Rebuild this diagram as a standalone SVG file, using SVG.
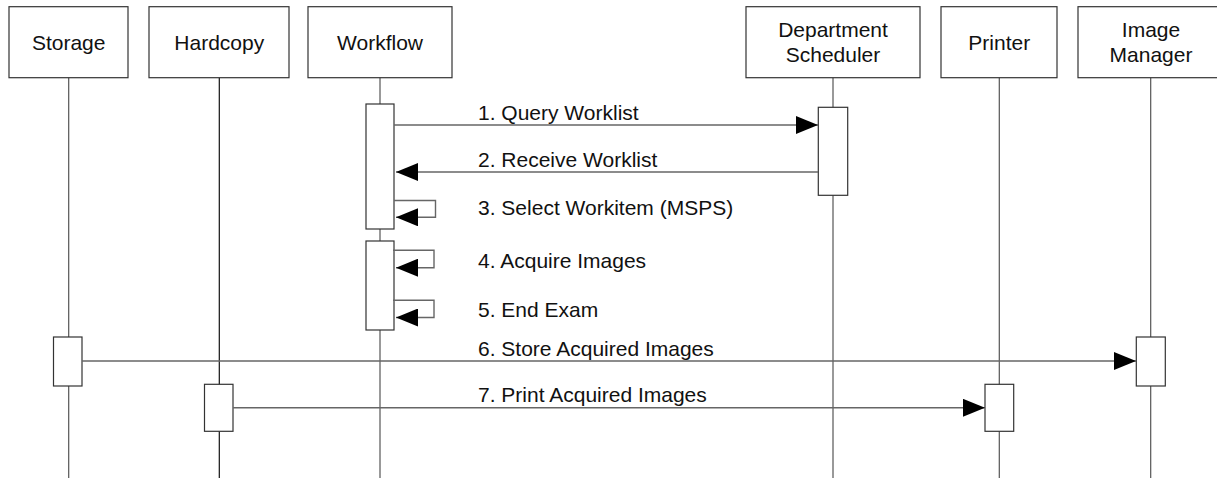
<svg xmlns="http://www.w3.org/2000/svg" width="1217" height="480" viewBox="0 0 1217 480">
<style>
.box{fill:#fff;stroke:#333;stroke-width:1.2}
.life{stroke:#555;stroke-width:1.2;fill:none}
.act{fill:#fff;stroke:#333;stroke-width:1.2}
.msg{stroke:#666;stroke-width:1.4;fill:none}
.t{font-family:"Liberation Sans",Arial,sans-serif;font-size:21px;fill:#111}
.c{text-anchor:middle}
</style>
<defs>
<marker id="ah" markerUnits="userSpaceOnUse" markerWidth="22" markerHeight="18" refX="22" refY="9" orient="auto">
<path d="M0,0 L22,9 L0,18 Z" fill="#000"/>
</marker>
</defs>
<rect width="1217" height="480" fill="#fff"/>
<g id="storage">
<line class="life" x1="68.7" y1="77.5" x2="68.7" y2="478"/>
<rect class="box" x="9" y="6.7" width="119" height="71"/>
<text class="t c" x="68.7" y="49.5">Storage</text>
<rect class="act" x="53.5" y="337" width="28.5" height="49"/>
</g>
<g id="hardcopy">
<line class="life" x1="219.3" y1="77.5" x2="219.3" y2="478" style="stroke:#111"/>
<rect class="box" x="149" y="6.7" width="140" height="71"/>
<text class="t c" x="219.3" y="49.5">Hardcopy</text>
<rect class="act" x="204.5" y="384.3" width="28.5" height="47"/>
</g>
<g id="workflow">
<line class="life" x1="380" y1="77.5" x2="380" y2="478"/>
<rect class="box" x="308" y="6.7" width="144" height="71"/>
<text class="t c" x="380" y="49.5">Workflow</text>
<rect class="act" x="366" y="104" width="28" height="125"/>
<rect class="act" x="366" y="241" width="28" height="89"/>
</g>
<g id="scheduler">
<line class="life" x1="833" y1="77.5" x2="833" y2="478"/>
<rect class="box" x="746" y="6.7" width="174" height="71"/>
<text class="t c" x="833" y="36.5">Department</text>
<text class="t c" x="833" y="61.5">Scheduler</text>
<rect class="act" x="818.3" y="107.3" width="29.4" height="88"/>
</g>
<g id="printer">
<line class="life" x1="999.3" y1="77.5" x2="999.3" y2="478"/>
<rect class="box" x="941" y="6.7" width="116" height="71"/>
<text class="t c" x="999.3" y="49.5">Printer</text>
<rect class="act" x="985" y="384.3" width="28.7" height="47"/>
</g>
<g id="imagemanager">
<line class="life" x1="1150.7" y1="77.5" x2="1150.7" y2="478"/>
<rect class="box" x="1078" y="6.7" width="146" height="71"/>
<text class="t c" x="1151" y="36.5">Image</text>
<text class="t c" x="1151" y="61.5">Manager</text>
<rect class="act" x="1136.3" y="337" width="29" height="49"/>
</g>
<g id="connectors">
<line class="msg" x1="394" y1="125" x2="818" y2="125" marker-end="url(#ah)"/>
<line class="msg" x1="818" y1="172" x2="396" y2="172" marker-end="url(#ah)"/>
<path class="msg" d="M394,200.5 H435.5 V217.3 H396" marker-end="url(#ah)"/>
<path class="msg" d="M393,250.3 H434 V267.7 H396" marker-end="url(#ah)"/>
<path class="msg" d="M393,300.3 H434 V317.5 H396" marker-end="url(#ah)"/>
<line class="msg" x1="82" y1="361" x2="1136" y2="361" marker-end="url(#ah)"/>
<line class="msg" x1="233" y1="407.8" x2="985" y2="407.8" marker-end="url(#ah)"/>
</g>
<g id="labels">
<text class="t" x="478" y="120">1. Query Worklist</text>
<text class="t" x="478" y="166.7">2. Receive Worklist</text>
<text class="t" x="478" y="215">3. Select Workitem (MSPS)</text>
<text class="t" x="478" y="267.5">4. Acquire Images</text>
<text class="t" x="478" y="316.5">5. End Exam</text>
<text class="t" x="478" y="355.5">6. Store Acquired Images</text>
<text class="t" x="478" y="402">7. Print Acquired Images</text>
</g>
</svg>
